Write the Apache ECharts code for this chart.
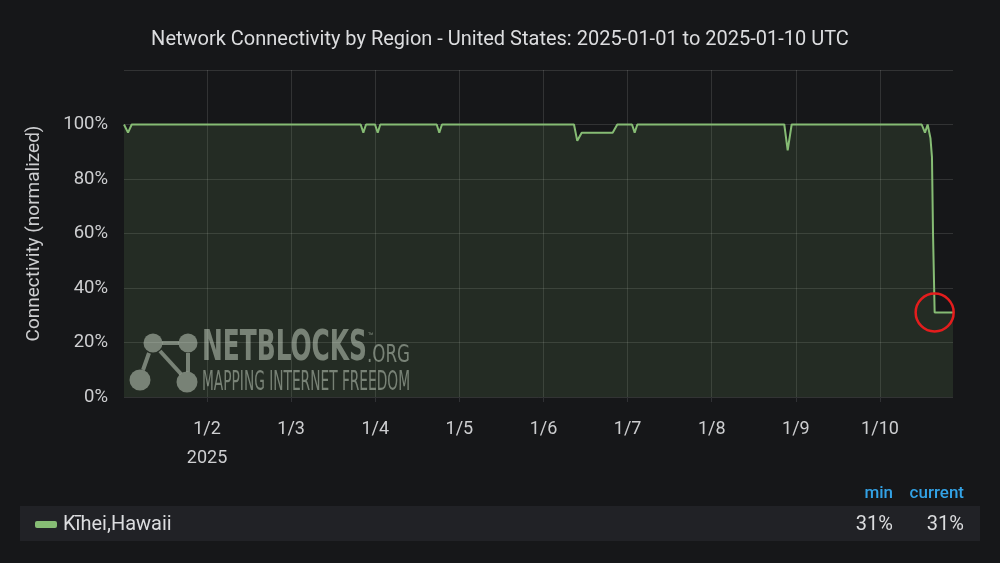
<!DOCTYPE html>
<html>
<head>
<meta charset="utf-8">
<script src="https://cdn.jsdelivr.net/npm/echarts@6/dist/echarts.min.js"></script>
<style>
html,body{margin:0;padding:0;background:#161719;}
#chart{width:1000px;height:563px;}
</style>
</head>
<body>
<div id="chart"></div>
<script>
// ---- data ----
const titleText = 'Network Connectivity by Region - United States: 2025-01-01 to 2025-01-10 UTC';
const seriesName = 'Kīhei,Hawaii';
const times = [
  '2025-01-01T00:19:00Z','2025-01-01T01:28:00Z','2025-01-01T02:31:00Z',
  '2025-01-03T19:51:00Z','2025-01-03T20:36:00Z','2025-01-03T21:22:00Z',
  '2025-01-03T23:56:00Z','2025-01-04T00:42:00Z','2025-01-04T01:26:00Z',
  '2025-01-04T17:32:00Z','2025-01-04T18:16:00Z','2025-01-04T19:02:00Z',
  '2025-01-06T08:42:00Z','2025-01-06T09:38:00Z','2025-01-06T10:54:00Z',
  '2025-01-06T19:44:00Z','2025-01-06T21:03:00Z',
  '2025-01-07T01:15:00Z','2025-01-07T02:01:00Z','2025-01-07T02:46:00Z',
  '2025-01-08T20:42:00Z','2025-01-08T21:40:00Z','2025-01-08T22:48:00Z',
  '2025-01-10T11:54:00Z','2025-01-10T12:50:00Z','2025-01-10T13:36:00Z',
  '2025-01-10T14:24:00Z','2025-01-10T14:50:00Z','2025-01-10T15:08:00Z',
  '2025-01-10T15:36:00Z','2025-01-10T20:50:00Z'
];
const values = [
  100, 97, 100,
  100, 97, 100,
  100, 97, 100,
  100, 97, 100,
  100, 94, 97,
  97, 100,
  100, 97, 100,
  100, 90.5, 100,
  100, 97, 100,
  95, 88, 60,
  31, 31
];
const tickDates = ['2025-01-02','2025-01-03','2025-01-04','2025-01-05','2025-01-06','2025-01-07','2025-01-08','2025-01-09','2025-01-10'];
const tickLabels = ['1/2','1/3','1/4','1/5','1/6','1/7','1/8','1/9','1/10'];
const yearLabel = '2025';
const xMin = '2025-01-01T00:19:00Z';
const xMax = '2025-01-10T20:50:00Z';
const yTicks = [0, 20, 40, 60, 80, 100];

// ---- build ----
const data = times.map((t, i) => [Date.parse(t), values[i]]);
const tickTs = tickDates.map(d => Date.parse(d + 'T00:00:00Z'));
const minVal = Math.round(Math.min.apply(null, values));
const curVal = Math.round(values[values.length - 1]);
const dropIdx = values.indexOf(curVal);

const measureCanvas = document.createElement('canvas').getContext('2d');
function fitScale(text, font, w) {
  measureCanvas.font = font;
  const m = measureCanvas.measureText(text).width;
  return m > 0 ? w / m : 1;
}
const wmFill = 'rgba(185,190,185,0.6)';
const nbFont = 'bold 43px "Liberation Sans Narrow", "DejaVu Sans Condensed", "Roboto Condensed", Roboto, sans-serif';
const orgFont = '25px "Liberation Sans Narrow", "DejaVu Sans Condensed", Roboto, sans-serif';
const tagFont = '26px "Liberation Sans Narrow", "DejaVu Sans Condensed", Roboto, sans-serif';
const txtColor = '#cdced0';

const chart = echarts.init(document.getElementById('chart'));
const option = {
  backgroundColor: '#161719',
  animation: false,
  title: {
    text: titleText,
    left: 'center',
    top: 25,
    textStyle: { color: '#dcdddf', fontSize: 20, fontWeight: 'normal', fontFamily: 'Roboto' }
  },
  grid: { left: 124, right: 47, top: 70, bottom: 166 },
  xAxis: {
    type: 'value',
    min: Date.parse(xMin),
    max: Date.parse(xMax),
    axisLine: { show: false },
    axisTick: { show: true, customValues: tickTs, length: 5, lineStyle: { color: '#303134' } },
    splitLine: { show: true, lineStyle: { color: 'rgba(255,255,255,0.12)', width: 1 } },
    axisLabel: {
      customValues: tickTs,
      color: txtColor,
      fontSize: 18,
      fontFamily: 'Roboto',
      margin: 18,
      lineHeight: 29,
      hideOverlap: false,
      formatter: function (v) {
        const i = tickTs.indexOf(v);
        if (i < 0) return '';
        return i === 0 ? tickLabels[i] + '\n' + yearLabel : tickLabels[i];
      }
    }
  },
  yAxis: {
    type: 'value',
    min: 0,
    max: 120,
    interval: 20,
    name: 'Connectivity (normalized)',
    nameLocation: 'middle',
    nameGap: 80,
    nameTextStyle: { color: txtColor, fontSize: 19, fontFamily: 'Roboto' },
    axisLine: { show: false },
    axisTick: { show: false },
    splitLine: { lineStyle: { color: 'rgba(255,255,255,0.12)', width: 1 } },
    axisLabel: {
      color: txtColor,
      fontSize: 18.5,
      fontFamily: 'Roboto',
      margin: 16,
      formatter: function (v) { return yTicks.indexOf(v) >= 0 ? v + '%' : ''; }
    }
  },
  series: [{
    name: seriesName,
    type: 'line',
    data: data,
    showSymbol: false,
    symbol: 'none',
    lineStyle: { color: '#86bc74', width: 2 },
    itemStyle: { color: '#86bc74' },
    areaStyle: { color: 'rgba(126,178,109,0.2)' },
    markPoint: {
      symbol: 'circle',
      symbolSize: 38,
      silent: true,
      label: { show: false },
      itemStyle: { color: 'rgba(0,0,0,0)', borderColor: '#e41d1d', borderWidth: 2.5 },
      data: [{ coord: data[dropIdx] }]
    }
  }],
  graphic: [
    {
      type: 'group', silent: true, z: 50,
      children: [
        { type: 'line', shape: { x1: 162, y1: 343, x2: 179, y2: 343 }, style: { stroke: wmFill, lineWidth: 4 } },
        { type: 'line', shape: { x1: 160, y1: 351, x2: 181, y2: 374 }, style: { stroke: wmFill, lineWidth: 4 } },
        { type: 'line', shape: { x1: 149, y1: 353, x2: 143, y2: 370 }, style: { stroke: wmFill, lineWidth: 4 } },
        { type: 'line', shape: { x1: 188, y1: 353, x2: 188, y2: 372 }, style: { stroke: wmFill, lineWidth: 4 } },
        { type: 'circle', shape: { cx: 153, cy: 343, r: 9.5 }, style: { fill: wmFill } },
        { type: 'circle', shape: { cx: 188, cy: 343, r: 9.5 }, style: { fill: wmFill } },
        { type: 'circle', shape: { cx: 140, cy: 380, r: 10.5 }, style: { fill: wmFill } },
        { type: 'circle', shape: { cx: 187, cy: 382, r: 10.5 }, style: { fill: wmFill } },
        { type: 'text', x: 202, y: 349, scaleX: fitScale('NETBLOCKS', nbFont, 165), originX: 0,
          style: { text: 'NETBLOCKS', font: nbFont, fill: wmFill, align: 'left', verticalAlign: 'middle' } },
        { type: 'text', x: 367, y: 355, scaleX: fitScale('.ORG', orgFont, 43), originX: 0,
          style: { text: '.ORG', font: orgFont, fill: wmFill, align: 'left', verticalAlign: 'middle' } },
        { type: 'text', x: 368, y: 337,
          style: { text: '™', font: '9px Roboto', fill: wmFill, align: 'left', verticalAlign: 'middle' } },
        { type: 'text', x: 202, y: 383.5, scaleX: fitScale('MAPPING INTERNET FREEDOM', tagFont, 208), originX: 0,
          style: { text: 'MAPPING INTERNET FREEDOM', font: tagFont, fill: wmFill, align: 'left', verticalAlign: 'middle' } }
      ]
    },
    { type: 'text', x: 893, y: 494, silent: true,
      style: { text: 'min', font: '500 17px Roboto', fill: '#33a2e5', align: 'right', verticalAlign: 'middle' } },
    { type: 'text', x: 964, y: 494, silent: true,
      style: { text: 'current', font: '500 17px Roboto', fill: '#33a2e5', align: 'right', verticalAlign: 'middle' } },
    { type: 'rect', shape: { x: 20, y: 506, width: 960, height: 35 }, style: { fill: '#212226' }, silent: true },
    { type: 'rect', shape: { x: 35, y: 521, width: 22, height: 7, r: 2 }, style: { fill: '#86bc74' }, silent: true },
    { type: 'text', x: 63, y: 525, silent: true,
      style: { text: seriesName, font: '20px Roboto', fill: '#dcdddf', align: 'left', verticalAlign: 'middle' } },
    { type: 'text', x: 893, y: 525, silent: true,
      style: { text: minVal + '%', font: '20px Roboto', fill: '#dcdddf', align: 'right', verticalAlign: 'middle' } },
    { type: 'text', x: 964, y: 525, silent: true,
      style: { text: curVal + '%', font: '20px Roboto', fill: '#dcdddf', align: 'right', verticalAlign: 'middle' } }
  ]
};
chart.setOption(option);
</script>
</body>
</html>
